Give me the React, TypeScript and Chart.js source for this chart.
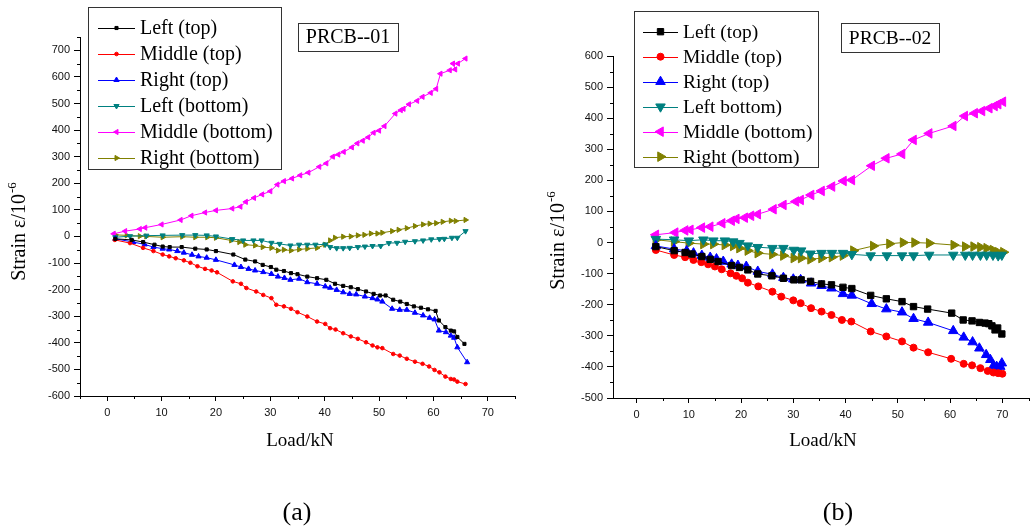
import React, { useEffect, useRef } from "react";
import { Chart, registerables } from "chart.js";

Chart.register(...registerables);

type P = [number, number];

// ---------- Chart (a) PRCB--01 ----------
const aLeftTop: P[] = [[1.5,-9],[4.5,-13],[6.6,-21],[8.7,-31],[10.2,-38],[11.5,-40],[13.7,-40],[16.2,-46],[18.3,-49],[20,-55],[23.2,-68],[25.4,-87],[27.2,-94],[28.6,-107],[30.1,-115],[31.1,-125],[32.5,-130],[33.8,-138],[35,-142],[36.8,-151],[38.6,-157],[40.3,-163],[41.9,-178],[43.4,-186],[44.8,-191],[46.1,-198],[47.6,-207],[49,-216],[50.2,-222],[51.2,-222],[52.6,-238],[53.9,-245],[55.1,-254],[56.4,-263],[57.7,-268],[59,-274],[60.4,-280],[61,-316],[62.2,-341],[63.2,-354],[63.8,-357],[64.4,-378],[65.7,-404]];
const aMiddleTop: P[] = [[1.4,-13],[4.2,-25],[6.6,-43],[8.5,-55],[10.2,-68],[11.4,-75],[12.6,-82],[14.1,-90],[15.3,-99],[16.6,-112],[18,-122],[19.2,-128],[20.2,-135],[23.1,-169],[24.6,-178],[25.6,-194],[27.4,-207],[28.7,-220],[30.2,-232],[31.1,-257],[32.5,-263],[33.8,-272],[35,-285],[36.8,-301],[38.6,-320],[40.1,-329],[41,-345],[42,-350],[43.4,-364],[44.8,-376],[46.1,-385],[47.6,-398],[48.8,-410],[49.7,-417],[50.6,-420],[52.6,-442],[53.8,-448],[55.1,-460],[56.6,-471],[58,-479],[59.2,-489],[60.2,-502],[61.1,-511],[62.2,-527],[63.2,-536],[63.8,-538],[64.4,-546],[65.9,-555]];
const aRightTop: P[] = [[1.5,-9],[4.8,-21],[6.9,-30],[8.5,-40],[10.2,-46],[11.4,-49],[12.9,-55],[14.1,-61],[15.6,-69],[16.8,-75],[18.3,-80],[20,-88],[23.4,-107],[24.6,-115],[26,-122],[27.2,-128],[28.7,-134],[30.2,-141],[31.4,-151],[32.6,-156],[33.7,-163],[35.3,-159],[36.8,-172],[38.6,-178],[40.1,-188],[41,-193],[42.2,-201],[43.4,-210],[44.6,-216],[45.8,-218],[47.4,-226],[48.8,-232],[49.7,-237],[50.6,-245],[52.4,-272],[53.8,-276],[55.1,-276],[56.6,-287],[58.1,-297],[59.3,-306],[60.2,-312],[61,-354],[62.3,-360],[63.2,-373],[63.8,-381],[64.4,-417],[66.2,-473]];
const aLeftBottom: P[] = [[1.5,-3],[4.2,1],[7.2,3],[10.2,4],[13.8,5],[16.2,5],[18.3,4],[20,0],[23,-10],[25,-15],[26.9,-15],[28.4,-15],[30.2,-24],[31.7,-28],[33.7,-34],[35.3,-31],[36.8,-31],[38.3,-31],[40.1,-30],[41,-40],[42.2,-44],[43.4,-44],[44.6,-43],[46.1,-40],[47.4,-38],[48.8,-36],[50.3,-36],[51.8,-25],[53.3,-24],[54.8,-20],[56.6,-18],[58.1,-15],[59.6,-11],[61.1,-10],[62,-9],[63.4,-5],[64.4,-5],[65.9,20]];
const aMiddleBottom: P[] = [[1.2,10],[3.3,20],[6,28],[7,33],[10,45],[13.5,62],[15.5,78],[18,90],[20,98],[23,105],[24.5,112],[25.5,130],[27,145],[28.5,158],[30,170],[31.3,195],[32.5,208],[34,218],[35.5,230],[37,240],[39,262],[40.3,275],[41.5,300],[42.5,308],[43.5,318],[45,335],[46,350],[47,360],[48,373],[49,390],[50,398],[51,415],[53,462],[54,475],[54.5,480],[55.5,497],[57,510],[58,525],[59.5,540],[60.5,555],[61.3,612],[63,625],[64,628],[63.6,650],[64.5,650],[65.9,669]];
const aRightBottom: P[] = [[1.5,6],[3.6,4],[6,1],[7.2,0],[10.2,-3],[13.8,-1],[16.2,-3],[18.4,-3],[20,-5],[22.8,-15],[24.3,-21],[25.4,-31],[27.2,-34],[28.6,-40],[30.2,-43],[31.4,-53],[32.5,-50],[33.8,-53],[35.3,-49],[36.8,-46],[38.6,-43],[40.1,-31],[41,-15],[41.9,-5],[43.4,-1],[44.8,0],[46.1,4],[47.3,6],[48.5,11],[49.7,11],[50.6,14],[52.4,20],[53.6,25],[55.1,31],[56.6,39],[58.1,45],[59.3,48],[60.5,50],[61.7,55],[63.2,59],[64.1,58],[65.9,62]];

// ---------- Chart (b) PRCB--02 ----------
const bLeftTop: P[] = [[3.7,-13],[7.2,-26],[9.3,-32],[10.6,-37],[12.5,-45],[14.1,-54],[15.6,-61],[18.2,-74],[19.7,-80],[21.3,-88],[23.2,-101],[25.9,-107],[28.1,-115],[30.1,-120],[31.5,-120],[33.3,-125],[35.4,-133],[37.3,-136],[39.5,-144],[41.2,-148],[44.8,-170],[47.8,-181],[50.8,-190],[53,-206],[55.7,-214],[60.3,-227],[62.5,-249],[64.2,-252],[65.6,-257],[66.7,-259],[67.4,-261],[68,-268],[68.6,-281],[69.1,-275],[69.9,-294]];
const bMiddleTop: P[] = [[3.7,-24],[7.2,-40],[9.3,-47],[10.9,-56],[12.4,-63],[13.7,-70],[15,-77],[16.3,-86],[18,-99],[19.1,-107],[20.2,-115],[21.3,-129],[23.3,-141],[26,-158],[27.7,-174],[30,-186],[31.4,-195],[33.4,-211],[35.4,-222],[37.3,-233],[39.3,-249],[41.1,-254],[44.8,-286],[47.8,-302],[50.8,-318],[53,-338],[55.8,-353],[60.2,-374],[62.6,-390],[64.2,-395],[65.8,-404],[67.2,-413],[68.3,-418],[69.2,-420],[70,-422]];
const bRightTop: P[] = [[3.7,-11],[7.2,-21],[9.6,-27],[10.9,-34],[12.5,-42],[14.1,-48],[15.3,-53],[16.6,-61],[18.2,-70],[19.4,-74],[21,-77],[23.2,-93],[26,-102],[28.1,-113],[30,-118],[31.4,-120],[33.4,-131],[35.4,-139],[37.3,-147],[39.5,-165],[41.2,-170],[45,-197],[47.8,-214],[50.8,-224],[53,-245],[55.8,-257],[60.6,-284],[62.6,-305],[64.3,-320],[65.6,-340],[66.9,-361],[67.7,-377],[68.3,-396],[68.9,-399],[69.6,-399],[69.9,-388]];
const bLeftBottom: P[] = [[3.7,11],[7.2,9],[10,6],[12.8,9],[14.7,6],[16.9,6],[18.5,3],[19.7,-2],[21.3,-10],[23.2,-15],[26,-18],[28.1,-18],[30.1,-24],[31.5,-26],[33.3,-36],[35.4,-34],[37.4,-34],[39.5,-34],[41.2,-38],[44.8,-42],[47.9,-42],[50.8,-42],[53,-42],[56,-40],[60.6,-40],[62.9,-40],[64.3,-40],[65.8,-40],[67,-40],[68.2,-40],[69.2,-42],[69.9,-40]];
const bMiddleBottom: P[] = [[3.7,25],[7.4,32],[9.3,39],[10.3,41],[12.5,48],[14.1,51],[16.4,62],[18.2,70],[19.1,76],[20.7,80],[21.9,86],[23.2,91],[26.2,107],[28.1,121],[30.5,132],[31.4,137],[33.4,153],[35.4,166],[37.4,180],[39.6,198],[41.2,201],[45,247],[47.8,271],[50.8,285],[53,330],[56,351],[60.6,375],[62.8,407],[64.7,416],[66.1,423],[67.5,432],[68.5,439],[69.2,445],[70.1,453]];
const bRightBottom: P[] = [[3.7,9],[7.2,3],[10,-2],[12.8,-5],[14.7,-5],[16.9,-8],[18.5,-11],[19.7,-18],[21.3,-26],[23.2,-34],[26,-38],[28.1,-42],[30.1,-50],[31.5,-50],[33.3,-54],[35.4,-50],[37.4,-47],[39.5,-42],[41.5,-26],[45.3,-11],[48.4,-4],[51,0],[53.2,0],[56,-2],[60.7,-8],[62.9,-13],[64.5,-13],[65.8,-15],[67,-18],[68.2,-24],[69.2,-31],[70.2,-31]];

// ---------- Ticks / labels ----------
const xTicks = [0, 10, 20, 30, 40, 50, 60, 70];
const yTicksA = [-600, -500, -400, -300, -200, -100, 0, 100, 200, 300, 400, 500, 600, 700];
const yTicksB = [-500, -400, -300, -200, -100, 0, 100, 200, 300, 400, 500, 600];
const labelsA = ["Left (top)", "Middle (top)", "Right (top)", "Left (bottom)", "Middle (bottom)", "Right (bottom)"];
const labelsB = ["Left (top)", "Middle (top)", "Right (top)", "Left bottom)", "Middle (bottom)", "Right (bottom)"];
const colors = ["#000000", "#FF0000", "#0000FF", "#008080", "#FF00FF", "#808000"];
const styles = ["rect", "circle", "triangle", "triangle", "triangle", "triangle"];
const rotations = [0, 0, 0, 180, -90, 90];

const SERIF = '"Liberation Serif", "Times New Roman", serif';
const SANS = '"Liberation Sans", Arial, sans-serif';

function drawMarker(ctx: CanvasRenderingContext2D, style: string, rotDeg: number, x: number, y: number, r: number, color: string) {
  ctx.save();
  ctx.fillStyle = color;
  ctx.strokeStyle = color;
  ctx.lineWidth = 1;
  ctx.beginPath();
  if (style === "rect") {
    const s = Math.SQRT1_2 * r;
    ctx.rect(x - s, y - s, 2 * s, 2 * s);
  } else if (style === "circle") {
    ctx.arc(x, y, r, 0, Math.PI * 2);
  } else {
    let rad = (rotDeg * Math.PI) / 180;
    ctx.moveTo(x + Math.sin(rad) * r, y - Math.cos(rad) * r);
    rad += (2 * Math.PI) / 3;
    ctx.lineTo(x + Math.sin(rad) * r, y - Math.cos(rad) * r);
    rad += (2 * Math.PI) / 3;
    ctx.lineTo(x + Math.sin(rad) * r, y - Math.cos(rad) * r);
    ctx.closePath();
  }
  ctx.fill();
  ctx.stroke();
  ctx.restore();
}

const decorPlugin = {
  id: "decor",
  afterDraw(chart: any, _args: any, o: any) {
    const ctx: CanvasRenderingContext2D = chart.ctx;
    const ca = chart.chartArea;
    const xs = chart.scales.x;
    const ys = chart.scales.y;
    ctx.save();
    // minor ticks
    ctx.strokeStyle = "#000";
    ctx.lineWidth = 1;
    ctx.beginPath();
    for (let v = -5; v <= 75; v += 10) {
      if (v < xs.min || v > xs.max) continue;
      const px = Math.round(xs.getPixelForValue(v)) + 0.5;
      ctx.moveTo(px, ca.bottom);
      ctx.lineTo(px, ca.bottom + 3);
    }
    for (let v = o.yMinorStart; v <= ys.max; v += 100) {
      const py = Math.round(ys.getPixelForValue(v)) + 0.5;
      ctx.moveTo(ca.left - 3, py);
      ctx.lineTo(ca.left, py);
    }
    ctx.stroke();

    // legend box
    const lg = o.legend;
    ctx.fillStyle = "#fff";
    ctx.fillRect(lg.x, lg.y, lg.w, lg.h);
    ctx.strokeStyle = "#333";
    ctx.strokeRect(lg.x + 0.5, lg.y + 0.5, lg.w, lg.h);
    ctx.font = `${lg.font}px ${SERIF}`;
    ctx.textBaseline = "middle";
    ctx.textAlign = "left";
    chart.data.datasets.forEach((ds: any, i: number) => {
      const ry = lg.rowY + i * lg.rowH;
      ctx.strokeStyle = ds.borderColor;
      ctx.lineWidth = 1;
      ctx.beginPath();
      ctx.moveTo(lg.lineX1, Math.round(ry) + 0.5);
      ctx.lineTo(lg.lineX2, Math.round(ry) + 0.5);
      ctx.stroke();
      drawMarker(ctx, ds.pointStyle, ds.pointRotation, (lg.lineX1 + lg.lineX2) / 2, ry, ds.pointRadius, ds.borderColor);
      ctx.fillStyle = "#000";
      ctx.fillText(ds.label, lg.textX, ry + 1);
    });

    // title box
    const tb = o.tag;
    ctx.strokeStyle = "#333";
    ctx.lineWidth = 1;
    ctx.strokeRect(tb.x + 0.5, tb.y + 0.5, tb.w, tb.h);
    ctx.fillStyle = "#000";
    ctx.font = `${tb.font}px ${SERIF}`;
    ctx.textAlign = "center";
    ctx.textBaseline = "middle";
    ctx.fillText(tb.text, tb.x + tb.w / 2, tb.y + tb.h / 2 + 1);

    // x title
    ctx.font = `${o.xTitle.font}px ${SERIF}`;
    ctx.fillText("Load/kN", o.xTitle.x, o.xTitle.y);

    // y title
    ctx.translate(o.yTitle.x, o.yTitle.y);
    ctx.rotate(-Math.PI / 2);
    ctx.textAlign = "left";
    ctx.textBaseline = "alphabetic";
    const main = "Strain \u03b5/10";
    const sup = "-6";
    ctx.font = `${o.yTitle.font}px ${SERIF}`;
    const w1 = ctx.measureText(main).width;
    ctx.font = `${Math.round(o.yTitle.font * 0.65)}px ${SERIF}`;
    const w2 = ctx.measureText(sup).width;
    const start = -(w1 + w2) / 2;
    ctx.font = `${o.yTitle.font}px ${SERIF}`;
    ctx.fillText(main, start, o.yTitle.font * 0.33);
    ctx.font = `${Math.round(o.yTitle.font * 0.65)}px ${SERIF}`;
    ctx.fillText(sup, start + w1 + 1, o.yTitle.font * 0.33 - o.yTitle.font * 0.45);
    ctx.restore();
  },
};

interface Cfg {
  width: number;
  height: number;
  series: P[][];
  labels: string[];
  radii: number[];
  yTicks: number[];
  xMin: number;
  xMax: number;
  yMin: number;
  yMax: number;
  area: { left: number; right: number; top: number; bottom: number };
  decor: any;
}

function StrainChart({ cfg }: { cfg: Cfg }) {
  const ref = useRef<HTMLCanvasElement>(null);
  useEffect(() => {
    if (!ref.current) return;
    const datasets = cfg.series.map((s, i) => ({
      label: cfg.labels[i],
      data: s.map(([x, y]) => ({ x, y })),
      borderColor: colors[i],
      backgroundColor: colors[i],
      borderWidth: 1,
      pointStyle: styles[i],
      pointRotation: rotations[i],
      pointRadius: cfg.radii[i],
      pointBorderWidth: 1,
      pointBackgroundColor: colors[i],
      pointBorderColor: colors[i],
      tension: 0,
      fill: false,
    }));
    const chart = new Chart(ref.current, {
      type: "line",
      data: { datasets },
      plugins: [decorPlugin],
      options: {
        animation: false,
        responsive: false,
        devicePixelRatio: 1,
        layout: {
          padding: { left: 0, top: cfg.area.top, right: cfg.width - cfg.area.right, bottom: 0 },
        },
        plugins: {
          legend: { display: false },
          tooltip: { enabled: false },
          decor: cfg.decor,
        } as any,
        scales: {
          x: {
            type: "linear",
            min: cfg.xMin,
            max: cfg.xMax,
            afterFit: (s: any) => { s.height = cfg.height - cfg.area.bottom; },
            afterBuildTicks: (s: any) => { s.ticks = xTicks.map((v) => ({ value: v })); },
            grid: { drawOnChartArea: false, drawTicks: true, tickLength: 5, color: "#000", tickColor: "#000" },
            border: { display: true, color: "#000", width: 1 },
            ticks: { color: "#111", font: { family: SANS, size: 11 }, padding: 5, maxRotation: 0 },
          },
          y: {
            type: "linear",
            min: cfg.yMin,
            max: cfg.yMax,
            afterFit: (s: any) => { s.width = cfg.area.left; },
            afterBuildTicks: (s: any) => { s.ticks = cfg.yTicks.map((v) => ({ value: v })); },
            grid: { drawOnChartArea: false, drawTicks: true, tickLength: 6, color: "#000", tickColor: "#000" },
            border: { display: true, color: "#000", width: 1 },
            ticks: { color: "#111", font: { family: SANS, size: 11 }, padding: 4 },
          },
        },
      } as any,
    });
    return () => chart.destroy();
  }, [cfg]);
  return <canvas ref={ref} width={cfg.width} height={cfg.height} style={{ display: "block", width: cfg.width, height: cfg.height }} />;
}

const cfgA: Cfg = {
  width: 520,
  height: 526,
  series: [aLeftTop, aMiddleTop, aRightTop, aLeftBottom, aMiddleBottom, aRightBottom],
  labels: labelsA,
  radii: [2.2, 1.8, 3, 3, 3, 3],
  yTicks: yTicksA,
  xMin: -5,
  xMax: 75,
  yMin: -600,
  yMax: 750,
  area: { left: 80, right: 519, top: 37, bottom: 396 },
  decor: {
    yMinorStart: -550,
    legend: { x: 88, y: 7, w: 193, h: 162, font: 20, rowY: 28, rowH: 26, lineX1: 98, lineX2: 135, textX: 140 },
    tag: { x: 298, y: 23, w: 100, h: 28, font: 20, text: "PRCB--01" },
    xTitle: { x: 300, y: 441, font: 19 },
    yTitle: { x: 18, y: 232, font: 20 },
  },
};

const cfgB: Cfg = {
  width: 515,
  height: 526,
  series: [bLeftTop, bMiddleTop, bRightTop, bLeftBottom, bMiddleBottom, bRightBottom],
  labels: labelsB,
  radii: [4.5, 3.5, 5.5, 5.5, 5.5, 5.5],
  yTicks: yTicksB,
  xMin: -4.5,
  xMax: 75,
  yMin: -500,
  yMax: 600,
  area: { left: 93, right: 513, top: 56, bottom: 398 },
  decor: {
    yMinorStart: -450,
    legend: { x: 114, y: 11, w: 184, h: 156, font: 19.5, rowY: 31.7, rowH: 25, lineX1: 123, lineX2: 158, textX: 163 },
    tag: { x: 321, y: 23, w: 98, h: 29, font: 19.5, text: "PRCB--02" },
    xTitle: { x: 303, y: 441, font: 19 },
    yTitle: { x: 37, y: 241, font: 20 },
  },
};

export default function App() {
  return (
    <div style={{ position: "absolute", left: 0, top: 0, width: 1035, height: 526, background: "#fff", overflow: "hidden" }}>
      <div style={{ position: "absolute", left: 0, top: 0 }}>
        <StrainChart cfg={cfgA} />
      </div>
      <div style={{ position: "absolute", left: 520, top: 0 }}>
        <StrainChart cfg={cfgB} />
      </div>
      <div style={{ position: "absolute", left: 297, top: 512, transform: "translate(-50%, -50%)", fontFamily: SERIF, fontSize: 26, color: "#000", lineHeight: 1 }}>(a)</div>
      <div style={{ position: "absolute", left: 838, top: 512, transform: "translate(-50%, -50%)", fontFamily: SERIF, fontSize: 26, color: "#000", lineHeight: 1 }}>(b)</div>
    </div>
  );
}
